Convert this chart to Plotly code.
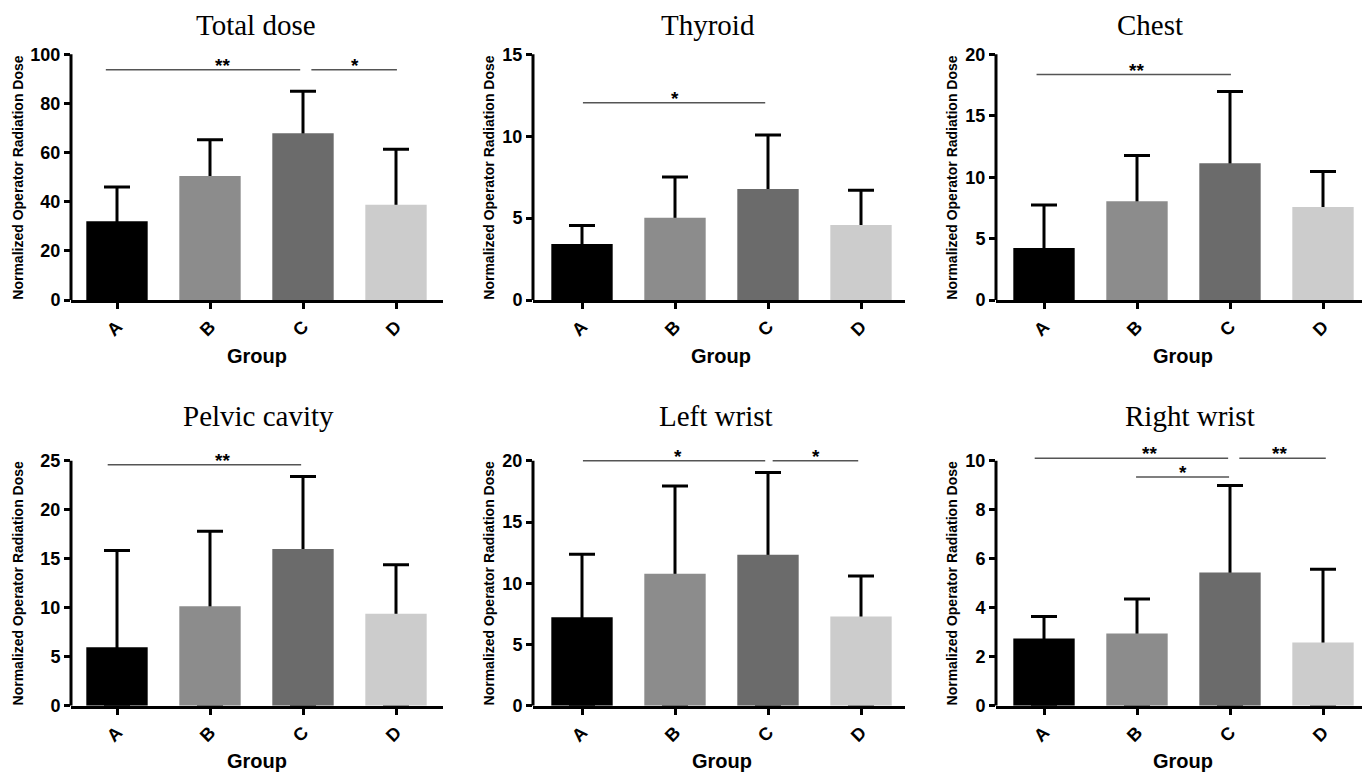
import plotly.graph_objects as go

# ---------------- data ----------------
groups = ["A", "B", "C", "D"]
bar_colors = ["#000000", "#8c8c8c", "#6b6b6b", "#cccccc"]

panel_titles = ["Total dose", "Thyroid", "Chest", "Pelvic cavity", "Left wrist", "Right wrist"]
y_max = [100, 15, 20, 25, 20, 10]
y_dtick = [20, 5, 5, 5, 5, 2]

total_mean = [32.1, 50.5, 67.9, 38.8]
total_err = [13.9, 14.7, 17.1, 22.6]
thyroid_mean = [3.42, 5.03, 6.78, 4.59]
thyroid_err = [1.13, 2.49, 3.29, 2.11]
chest_mean = [4.24, 8.05, 11.14, 7.57]
chest_err = [3.49, 3.71, 5.83, 2.90]
pelvic_mean = [5.97, 10.17, 16.0, 9.4]
pelvic_err = [9.87, 7.63, 7.4, 5.0]
lwrist_mean = [7.22, 10.77, 12.32, 7.30]
lwrist_err = [5.16, 7.16, 6.71, 3.3]
rwrist_mean = [2.75, 2.95, 5.44, 2.58]
rwrist_err = [0.90, 1.41, 3.55, 2.99]

# significance brackets (start / end on the group axis, height, label, label position)
total_sig_x0 = [-0.12, 2.09]
total_sig_x1 = [1.97, 3.01]
total_sig_y = [93.7, 93.7]
total_sig_text = ["**", "*"]
total_sig_tx = [1.13, 2.56]

thyroid_sig_x0 = [0.01]
thyroid_sig_x1 = [1.97]
thyroid_sig_y = [12.05]
thyroid_sig_text = ["*"]
thyroid_sig_tx = [1.0]

chest_sig_x0 = [-0.08]
chest_sig_x1 = [2.01]
chest_sig_y = [18.35]
chest_sig_text = ["**"]
chest_sig_tx = [0.99]

pelvic_sig_x0 = [-0.10]
pelvic_sig_x1 = [1.98]
pelvic_sig_y = [24.6]
pelvic_sig_text = ["**"]
pelvic_sig_tx = [1.13]

lwrist_sig_x0 = [0.01, 2.05]
lwrist_sig_x1 = [1.97, 2.97]
lwrist_sig_y = [20.0, 20.0]
lwrist_sig_text = ["*", "*"]
lwrist_sig_tx = [1.03, 2.52]

rwrist_sig_x0 = [-0.10, 0.99, 2.10]
rwrist_sig_x1 = [1.98, 1.99, 3.03]
rwrist_sig_y = [10.1, 9.34, 10.1]
rwrist_sig_text = ["**", "*", "**"]
rwrist_sig_tx = [1.13, 1.49, 2.53]

panels = [
    (total_mean, total_err, total_sig_x0, total_sig_x1, total_sig_y, total_sig_text, total_sig_tx),
    (thyroid_mean, thyroid_err, thyroid_sig_x0, thyroid_sig_x1, thyroid_sig_y, thyroid_sig_text, thyroid_sig_tx),
    (chest_mean, chest_err, chest_sig_x0, chest_sig_x1, chest_sig_y, chest_sig_text, chest_sig_tx),
    (pelvic_mean, pelvic_err, pelvic_sig_x0, pelvic_sig_x1, pelvic_sig_y, pelvic_sig_text, pelvic_sig_tx),
    (lwrist_mean, lwrist_err, lwrist_sig_x0, lwrist_sig_x1, lwrist_sig_y, lwrist_sig_text, lwrist_sig_tx),
    (rwrist_mean, rwrist_err, rwrist_sig_x0, rwrist_sig_x1, rwrist_sig_y, rwrist_sig_text, rwrist_sig_tx),
]

# ---------------- layout geometry (pixels) ----------------
W, H = 1362, 783
col_axis_px = [71, 533, 996]
col_right_px = [443, 905, 1362]
col_first_center_px = [117, 582, 1044]
cat_px = 93.0
row_zero_px = [304, 715]
row_span_px = [249, 248.3]
ext = 1.12

title_x_px = [256, 708, 1150, 258, 716, 1190]
title_y_px = [25, 421]
group_x_px = [257, 721, 1183, 257, 722, 1183]
group_y_px = [361, 772]
ytitle_x_px = [18, 489, 952]
ytitle_y_px = [180, 591]

SANS = "Liberation Sans, Arial, sans-serif"
SERIF = "Liberation Serif, Times New Roman, serif"

fig = go.Figure()
layout = dict(
    width=W, height=H,
    margin=dict(l=0, r=0, t=0, b=0),
    paper_bgcolor="white", plot_bgcolor="white",
    showlegend=False, barmode="overlay",
)
annotations = []
shapes = []

for i, (mean, err, sx0, sx1, sy, stext, stx) in enumerate(panels):
    r, c = divmod(i, 3)
    n = "" if i == 0 else str(i + 1)
    xa, ya = "x" + n, "y" + n
    x_start = -(col_first_center_px[c] - col_axis_px[c]) / cat_px
    x_end = x_start + (col_right_px[c] - col_axis_px[c]) / cat_px
    zero = row_zero_px[r]
    top = zero - row_span_px[r] * ext
    ymax = y_max[i]
    xs = list(range(len(groups)))

    # error bars (stem runs down to zero, hidden by the bars drawn on top)
    fig.add_trace(go.Bar(
        x=xs, y=mean, width=0.66, xaxis=xa, yaxis=ya,
        marker=dict(color="rgba(0,0,0,0)", line=dict(width=0)),
        error_y=dict(type="data", symmetric=False, array=err, arrayminus=mean,
                     color="black", thickness=3, width=13),
        hoverinfo="skip",
    ))
    fig.add_trace(go.Bar(
        x=xs, y=mean, width=0.66, xaxis=xa, yaxis=ya,
        marker=dict(color=bar_colors, line=dict(width=0)),
        hovertemplate="%{y}<extra></extra>",
    ))
    for k in range(len(sy)):
        fig.add_trace(go.Scatter(
            x=[sx0[k], sx1[k]], y=[sy[k], sy[k]], mode="lines",
            line=dict(color="#555555", width=1.5), xaxis=xa, yaxis=ya,
            hoverinfo="skip",
        ))
        annotations.append(dict(
            x=stx[k], y=sy[k], xref=xa, yref=ya, text=stext[k], showarrow=False,
            yanchor="bottom", xanchor="center", yshift=-8,
            font=dict(family=SANS, size=19, color="black", weight="bold"),
        ))

    layout["xaxis" + n] = dict(
        domain=[col_axis_px[c] / W, col_right_px[c] / W],
        range=[x_start, x_end], anchor=ya,
        tickmode="array", tickvals=xs, ticktext=groups, tickangle=-45,
        ticks="outside", ticklen=6, tickwidth=2.5, tickcolor="black",
        showline=True, linewidth=3, linecolor="black",
        showgrid=False, zeroline=False, fixedrange=True,
        tickfont=dict(family=SANS, size=18, color="black", weight="bold"),
    )
    layout["yaxis" + n] = dict(
        domain=[1 - zero / H, 1 - top / H],
        range=[0, ymax * ext], anchor=xa,
        tickmode="array", tickvals=list(range(0, ymax + 1, y_dtick[i])),
        ticks="outside", ticklen=6, tickwidth=2.5, tickcolor="black",
        showline=False, showgrid=False, zeroline=False, fixedrange=True,
        tickfont=dict(family=SANS, size=18, color="black", weight="bold"),
    )
    # y axis line, ending at the top tick
    shapes.append(dict(
        type="line", xref=xa + " domain", yref=ya, x0=0, x1=0, y0=0, y1=ymax,
        line=dict(color="black", width=3),
    ))

    annotations.append(dict(
        x=title_x_px[i] / W, y=1 - title_y_px[r] / H, xref="paper", yref="paper",
        text=panel_titles[i], showarrow=False, xanchor="center", yanchor="middle",
        font=dict(family=SERIF, size=29, color="black"),
    ))
    if r == 0:
        annotations.append(dict(
            x=group_x_px[i] / W, y=1 - group_y_px[r] / H, xref="paper", yref="paper",
            text="Group", showarrow=False, xanchor="center", yanchor="middle",
            font=dict(family=SANS, size=20, color="black", weight="bold"),
        ))
    else:
        annotations.append(dict(
            x=group_x_px[i] / W, y=0, xref="paper", yref="paper", borderpad=0,
            text="Group", showarrow=False, xanchor="center", yanchor="bottom",
            font=dict(family=SANS, size=20, color="black", weight="bold"),
        ))
    annotations.append(dict(
        x=ytitle_x_px[c] / W, y=1 - ytitle_y_px[r] / H, xref="paper", yref="paper",
        text="Normalized Operator Radiation Dose", showarrow=False, textangle=-90,
        xanchor="center", yanchor="middle",
        font=dict(family=SANS, size=14, color="black", weight="bold"),
    ))

layout["annotations"] = annotations
layout["shapes"] = shapes
fig.update_layout(**layout)
fig.write_html(
    "out.html",
    config={"displayModeBar": False},
    post_script="document.body.style.margin='0';document.body.style.overflow='hidden';",
)
